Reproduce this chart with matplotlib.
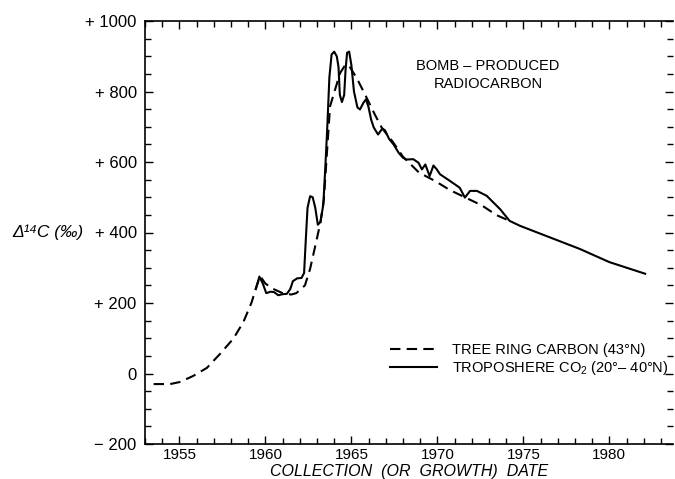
import matplotlib
matplotlib.use("Agg")
import matplotlib.pyplot as plt
from matplotlib.ticker import MultipleLocator, FuncFormatter

plt.rcParams["font.family"] = ["Liberation Sans", "DejaVu Sans"]
plt.rcParams["mathtext.fontset"] = "custom"
plt.rcParams["mathtext.rm"] = "Liberation Sans"
plt.rcParams["mathtext.it"] = "Liberation Sans:italic"

# tree ring carbon (43N), dashed
tree_years = [1953.5, 1954.46, 1955.04, 1955.8, 1956.6, 1957.37, 1958.14, 1958.72,
              1959.2, 1959.5, 1959.7, 1960.0, 1960.45, 1961.0, 1961.5, 1961.8,
              1962.3, 1962.6, 1962.9, 1963.2, 1963.4, 1963.57, 1963.76, 1964.05,
              1964.34, 1964.6, 1964.83, 1965.31, 1965.8, 1966.37, 1966.77, 1967.44,
              1968.0, 1968.93, 1969.87, 1970.74, 1972.58, 1973.45, 1974.2]
tree_d14c = [-30, -30, -24, -7, 16, 56, 99, 146,
             202, 250, 276, 255, 240, 228, 224, 228,
             250, 297, 362, 428, 494, 620, 758, 805,
             852, 872, 876, 838, 791, 734, 697, 655,
             615, 570, 546, 520, 477, 449, 433]

# troposphere CO2 (20-40N), solid
tropo_years = [1959.45, 1959.65, 1959.85, 1960.05, 1960.3, 1960.5, 1960.75, 1961.0,
               1961.25, 1961.45, 1961.6, 1961.85, 1962.1, 1962.25, 1962.35, 1962.45,
               1962.6, 1962.75, 1962.9, 1963.05, 1963.2, 1963.37, 1963.5, 1963.6,
               1963.72, 1963.85, 1964.0, 1964.15, 1964.25, 1964.33, 1964.45, 1964.58,
               1964.66, 1964.75, 1964.87, 1965.0, 1965.15, 1965.35, 1965.5, 1965.7,
               1965.85, 1966.0, 1966.15, 1966.3, 1966.55, 1966.8, 1966.95, 1967.2,
               1967.45, 1967.75, 1968.0, 1968.2, 1968.6, 1968.9, 1969.1, 1969.3,
               1969.55, 1969.77, 1969.95, 1970.16, 1970.74, 1971.3, 1971.6, 1971.9,
               1972.3, 1972.87, 1973.65, 1974.2, 1974.8, 1976.55, 1978.3, 1980.0, 1982.08]
tropo_d14c = [240, 275, 255, 228, 232, 231, 222, 225,
              226, 240, 262, 270, 271, 285, 380, 470,
              503, 500, 470, 422, 430, 480, 600, 700,
              840, 905, 913, 900, 870, 790, 770, 790,
              860, 910, 913, 875, 800, 755, 749, 768,
              778, 755, 720, 698, 678, 695, 690, 665,
              650, 626, 612, 607, 608, 598, 579, 593,
              560, 590, 580, 565, 546, 527, 499, 518,
              518, 504, 466, 433, 419, 386, 353, 316, 283]


def ytick_fmt(v, pos):
    if v > 0:
        return f"+ {v:.0f}"
    if v < 0:
        return f"\u2212 {abs(v):.0f}"
    return "0"


fig = plt.figure(figsize=(6.75, 4.79), dpi=100)
ax = fig.add_axes([145 / 675, 1 - 444 / 479, 528 / 675, 423 / 479])

ax.plot(tree_years, tree_d14c, color="black", lw=1.5, dashes=(5, 3))
ax.plot(tropo_years, tropo_d14c, color="black", lw=1.5)

ax.set_xlim(1953.0, 1983.7)
ax.set_ylim(-200, 1000)
ax.xaxis.set_major_locator(MultipleLocator(5))
ax.xaxis.set_minor_locator(MultipleLocator(1))
ax.yaxis.set_major_locator(MultipleLocator(200))
ax.yaxis.set_minor_locator(MultipleLocator(50))
ax.yaxis.set_major_formatter(FuncFormatter(ytick_fmt))
ax.tick_params(which="both", direction="in", top=True, right=True, width=1, color="black")
ax.tick_params(which="major", length=6)
ax.tick_params(which="minor", length=4)
ax.tick_params(axis="x", labelsize=11, pad=3)
ax.tick_params(axis="y", labelsize=12, pad=6)
ax.spines["right"].set_visible(False)
for s in ("left", "top", "bottom"):
    ax.spines[s].set_linewidth(1.2)

ax.set_xlabel("COLLECTION  (OR  GROWTH)  DATE", fontsize=11.5, style="italic", labelpad=1)
fig.text(12 / 675, 1 - 232 / 479, "\u0394\u00b9\u2074C (\u2030)", fontsize=12.5, style="italic",
         ha="left", va="center")

fig.text(488 / 675, 1 - 75 / 479, "BOMB \u2013 PRODUCED\nRADIOCARBON", fontsize=10.5,
         ha="center", va="center", linespacing=1.3)

leg = ax.legend(["TREE RING CARBON (43\u00b0N)", "TROPOSHERE CO$_2$ (20\u00b0\u2013 40\u00b0N)"],
                loc="center left", bbox_to_anchor=(383 / 675, 1 - 360 / 479),
                bbox_transform=fig.transFigure, frameon=False, fontsize=10.5,
                handlelength=3.2, handletextpad=1.0, labelspacing=0.15, borderpad=0)

fig.savefig("out.png", dpi=100)
